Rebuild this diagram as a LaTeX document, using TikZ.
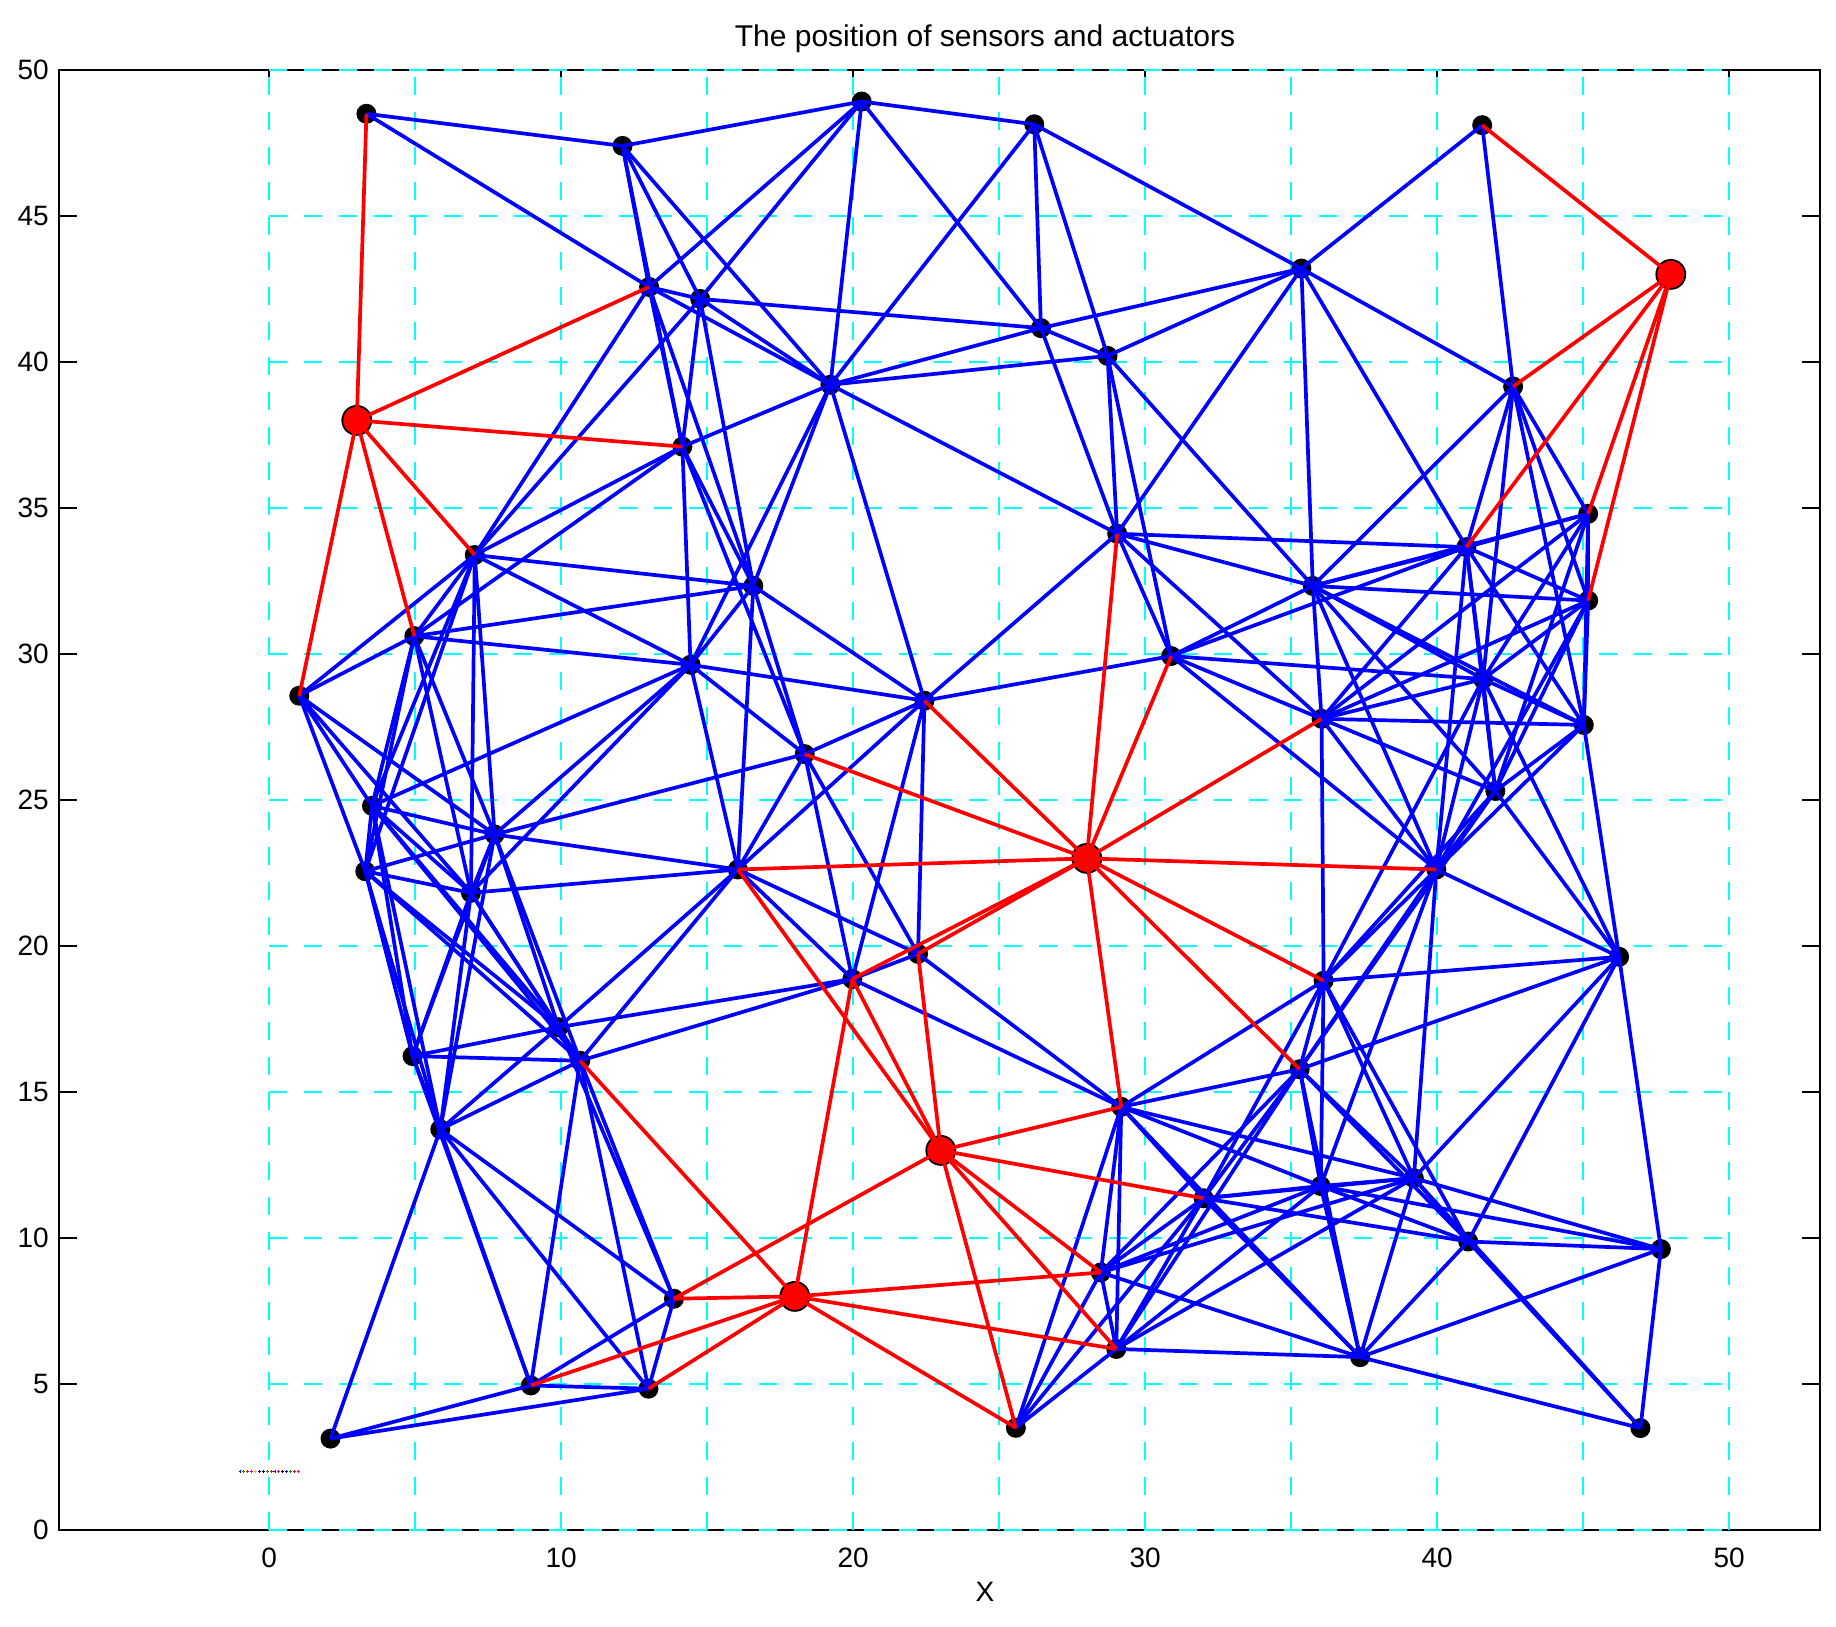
\documentclass[tikz,border=0pt]{standalone}
\usepackage{fontspec}
\setmainfont{Liberation Sans}
\definecolor{gridcyan}{RGB}{0,255,255}
\definecolor{edgeblue}{RGB}{0,0,255}
\definecolor{edgered}{RGB}{255,0,0}
\begin{document}
\begin{tikzpicture}[x=1pt,y=1pt,
  sensor/.style={circle,fill=black,inner sep=0pt,minimum size=20pt},
  actuator/.style={circle,fill=edgered,draw=black,line width=1.8pt,inner sep=0pt,minimum size=29pt},
  bedge/.style={draw=edgeblue,line width=3.7pt},
  redge/.style={draw=edgered,line width=3.7pt},
  gridln/.style={draw=gridcyan,line width=2.4pt,dash pattern=on 18pt off 17pt},
  axisln/.style={draw=black,line width=2pt},
  ticklbl/.style={font=\fontsize{28}{32}\selectfont,inner sep=0pt}]
\useasboundingbox (0,0) rectangle (1836,1626);
\fill[white] (0,0) rectangle (1836,1626);
\def\XS{{0,3.33,12.1,20.29,26.2,41.54,13.01,14.76,26.43,28.71,35.35,19.22,42.6,14.15,7.04,16.58,29.04,41.0,45.17,35.74,45.17,4.97,1.03,14.43,30.89,22.44,41.57,36.04,45.02,18.34,41.99,3.52,7.72,3.29,16.05,39.97,6.91,22.22,46.23,19.97,36.11,9.91,4.91,10.65,35.29,29.18,5.86,39.2,36.01,32.0,41.06,47.66,28.48,13.86,29.01,37.36,8.96,12.99,25.57,46.96,2.10}}
\def\YS{{0,48.5,47.4,48.92,48.14,48.11,42.57,42.16,41.16,40.21,43.2,39.22,39.16,37.1,33.39,32.33,34.12,33.66,34.8,32.33,31.83,30.61,28.57,29.63,29.93,28.4,29.14,27.78,27.57,26.57,25.31,24.8,23.82,22.56,22.62,22.62,21.82,19.73,19.63,18.87,18.81,17.22,16.23,16.07,15.78,14.49,13.72,12.05,11.78,11.36,9.88,9.62,8.82,7.92,6.2,5.92,4.95,4.84,3.5,3.49,3.13}}
\def\AXS{{0,3,48,28,23,18}}
\def\AYS{{0,38,43,23,13,8}}
\begin{scope}[shift={(269.2pt,96pt)},x=29.2pt,y=29.2pt]
  % axes box and ticks
  \draw[axisln] (-7.2,0) rectangle (53.1,50);
  \foreach \t in {0,10,...,50}{
    \draw[axisln] (\t,0) -- ++(0,18pt);
    \draw[axisln] (\t,50) -- ++(0,-18pt);
    \node[ticklbl,anchor=north] (xl\t) at ([yshift=-18pt]\t,0) {\t};
  }
  \foreach \t in {0,5,...,50}{
    \draw[axisln] (-7.2,\t) -- ++(18pt,0);
    \draw[axisln] (53.1,\t) -- ++(-18pt,0);
    \node[ticklbl,anchor=east] (yl\t) at ([xshift=-10pt]-7.2,\t) {\t};
  }
  % grid
  \foreach \t in {0,5,...,50}{
    \draw[gridln] (\t,0) -- (\t,50);
    \draw[gridln] (0,\t) -- (50,\t);
  }
  % small legend artifact
  \foreach \k/\c in {0/blue,1/green!60!black,2/red,3/magenta,4/yellow!80!black,5/blue,6/black,7/green!60!black,8/red,9/blue,10/magenta,11/black,12/blue,13/green!60!black,14/red,15/magenta}{
    \draw[\c,line width=0.8pt] (-1+\k*0.133-0.05,2) -- (-1+\k*0.133+0.05,2);
    \draw[\c,line width=0.8pt] (-1+\k*0.133,2.05) -- (-1+\k*0.133,1.95);
  }
  % nodes
  \foreach \i in {1,...,60}{
    \pgfmathsetmacro{\xx}{\XS[\i]}
    \pgfmathsetmacro{\yy}{\YS[\i]}
    \node[sensor] (n\i) at (\xx,\yy) {};
  }
  \foreach \i in {1,...,5}{
    \pgfmathsetmacro{\xx}{\AXS[\i]}
    \pgfmathsetmacro{\yy}{\AYS[\i]}
    \node[actuator] (a\i) at (\xx,\yy) {};
  }
  % sensor-sensor links (communication range 12)
  \foreach \i in {1,...,59}{
    \pgfmathtruncatemacro{\ip}{\i+1}
    \foreach \j in {\ip,...,60}{
      \pgfmathsetmacro{\dx}{\XS[\i]-\XS[\j]}
      \pgfmathsetmacro{\dy}{\YS[\i]-\YS[\j]}
      \pgfmathsetmacro{\dd}{\dx*\dx+\dy*\dy}
      \ifdim \dd pt < 144pt
        \draw[bedge] (n\i.center) -- (n\j.center);
      \fi
    }
  }
  % actuator-sensor links
  \foreach \i in {1,...,5}{
    \foreach \j in {1,...,60}{
      \pgfmathsetmacro{\dx}{\AXS[\i]-\XS[\j]}
      \pgfmathsetmacro{\dy}{\AYS[\i]-\YS[\j]}
      \pgfmathsetmacro{\dd}{\dx*\dx+\dy*\dy}
      \ifdim \dd pt < 144pt
        \draw[redge] (a\i.center) -- (n\j.center);
      \fi
    }
  }
\end{scope}
\node[font=\fontsize{30}{36}\selectfont,anchor=base,inner sep=0pt] (title) at (985,1579) {The position of sensors and actuators};
\node[ticklbl,anchor=north] (xlabel) at (985,44) {X};
\end{tikzpicture}
\end{document}
